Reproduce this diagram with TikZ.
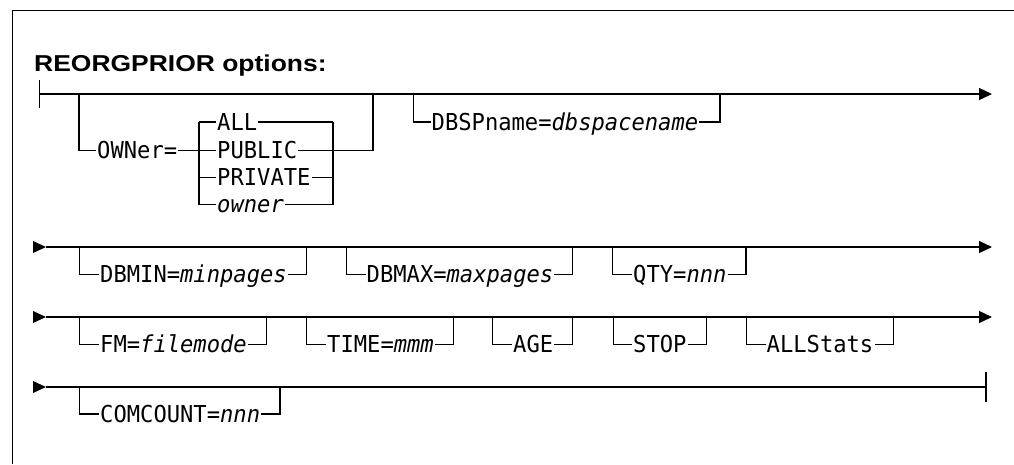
\documentclass[tikz,border=0pt]{standalone}
\usepackage{fontspec}
\setmainfont{Liberation Sans}
\setmonofont{DejaVu Sans Mono}
\usetikzlibrary{arrows.meta}
\newcommand\mt[1]{\scalebox{0.95}[1]{#1}}
\newcommand\railbranch[7]{%
  \coordinate (#1l) at (#2,#5);
  \coordinate (#1r) at (#3,#5);
  \node[item] (#1) at (#4,#6) {\mt{#7}};
  \draw[rail] (#1l) |- (#1.west);
  \draw[rail] (#1.east) -| (#1r);
}
\begin{document}
\begin{tikzpicture}[x=1pt,y=-1pt,
  rail/.style={line width=1.3pt},
  item/.style={inner xsep=1pt, inner ysep=0pt, text height=16.5pt, text depth=0pt,
    font=\fontsize{23.3}{25}\ttfamily, anchor=west},
  endarrow/.style={-{Triangle[length=13pt,width=12pt]}}
]
\useasboundingbox (0,0) rectangle (1014,464);
% frame
\draw[line width=1pt] (12.3,464) -- (12.3,10) -- (1014,10);
\node[anchor=base west, inner sep=0, font=\fontsize{23}{26}\selectfont\bfseries] (title) at (34,71)
  {\scalebox{1.15}[1]{REORGPRIOR options:}};

% ---------- row 1
\coordinate (r1s) at (39.5,94);
\coordinate (r1e) at (992,94);
\draw[rail] ([yshift=14pt]r1s) -- ([yshift=-14pt]r1s);
\draw[rail,endarrow] (r1s) -- (r1e);

\coordinate (o1) at (79,94);
\coordinate (o2) at (373,94);
\node[item] (owner) at (96,150.5) {\mt{OWNer=}};
\draw[rail] (o1) |- (owner.west);
\node[item] (all) at (216,122) {\mt{ALL}};
\node[item] (public) at (216,150.5) {\mt{PUBLIC}};
\node[item] (private) at (216,177.5) {\mt{PRIVATE}};
\node[item] (ownerv) at (216,204.5) {\mt{\textit{owner}}};
\coordinate (sl) at (199,122);
\coordinate (sr) at (333,122);
\draw[rail] (owner.east) -- (owner.east -| sl);
\draw[rail] (sl |- all.west) -- (sl |- ownerv.west);
\draw[rail] (sr |- all.east) -- (sr |- ownerv.east);
\foreach \n in {all,public,private,ownerv}{
  \draw[rail] (sl |- \n.west) -- (\n.west);
  \draw[rail] (\n.east) -- (sr |- \n.east);
}
\draw[rail] (sr |- public.east) -| (o2);

\railbranch{dbsp}{413.3}{720}{430.5}{94}{122}{DBSPname=\textit{dbspacename}}

% ---------- row 2
\coordinate (r2s) at (46,247);
\coordinate (r2e) at (992,247);
\fill (r2s) -- ++(-13,-6) -- ++(0,12) -- cycle;
\draw[rail,endarrow] (r2s) -- (r2e);
\railbranch{dbmin}{79.3}{306.7}{99}{247}{274.5}{DBMIN=\textit{minpages}}
\railbranch{dbmax}{346.7}{572.7}{365.5}{247}{274.5}{DBMAX=\textit{maxpages}}
\railbranch{qty}{612.7}{746}{632}{247}{274.5}{QTY=\textit{nnn}}

% ---------- row 3
\coordinate (r3s) at (46,317);
\coordinate (r3e) at (992,317);
\fill (r3s) -- ++(-13,-6) -- ++(0,12) -- cycle;
\draw[rail,endarrow] (r3s) -- (r3e);
\railbranch{fm}{79.3}{266.7}{99}{317}{344.5}{FM=\textit{filemode}}
\railbranch{time}{306.7}{453.3}{326}{317}{344.5}{TIME=\textit{mmm}}
\railbranch{age}{492.7}{572.7}{512}{317}{344.5}{AGE}
\railbranch{stop}{613.3}{706.7}{632}{317}{344.5}{STOP}
\railbranch{alls}{746.7}{893.3}{765.5}{317}{344.5}{ALLStats}

% ---------- row 4
\coordinate (r4s) at (46,387);
\coordinate (r4e) at (986,387);
\fill (r4s) -- ++(-13,-6) -- ++(0,12) -- cycle;
\draw[rail] (r4s) -- (r4e);
\draw[rail] ([yshift=15pt]r4e) -- ([yshift=-15pt]r4e);
\railbranch{comc}{79.3}{280}{99}{387}{414}{COMCOUNT=\textit{nnn}}
\end{tikzpicture}
\end{document}
